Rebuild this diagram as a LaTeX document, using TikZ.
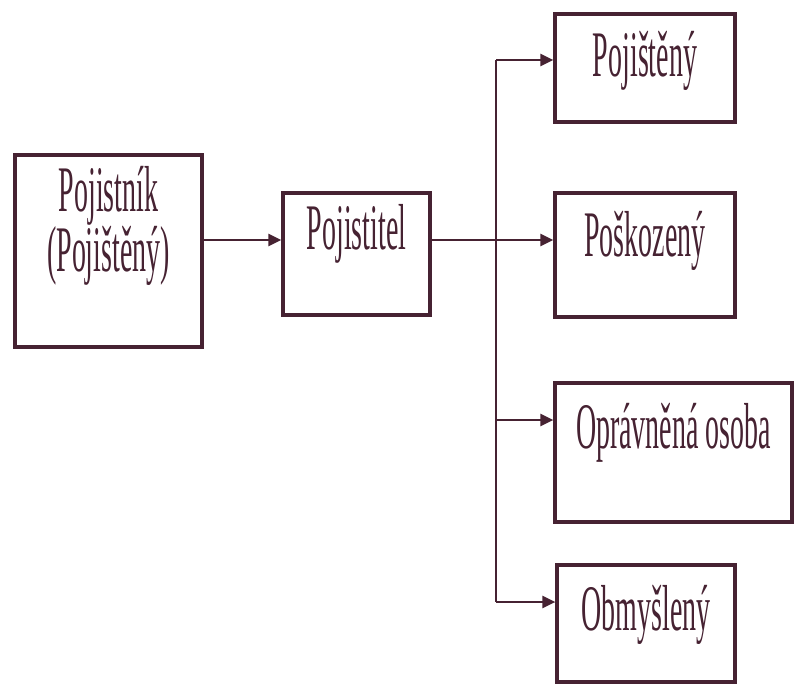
\documentclass[tikz,border=0pt]{standalone}
\usepackage{fontspec}
\setmainfont{Liberation Serif}[FakeStretch=0.43]
\usepackage{tikz}
\usetikzlibrary{arrows, arrows.meta}

\definecolor{ink}{RGB}{70,34,50}

\begin{document}
\begin{tikzpicture}[x=1pt, y=-1pt]
	\tikzstyle{box} = [rectangle, draw=ink, line width=3.2pt, inner sep=0pt, 
	text=ink, align=center, font=\fontsize{65}{56}\selectfont]
	\tikzstyle{line} = [draw=ink, line width=2.4pt]
	\tikzstyle{arrow} = [line, ->, >={Triangle[length=13pt, width=12pt]}]
	\useasboundingbox (0,0) rectangle (794,684);
	\node (pojistnik) [box, minimum width=187pt, minimum height=192pt, text height=100pt, text depth=58pt] at (108.5,251) {Pojistník\\(Pojištěný)};
	\node (pojistitel) [box, minimum width=147pt, minimum height=122pt, text height=44pt, text depth=52pt] at (356.5,254) {Pojistitel};
	\node (pojisteny) [box, minimum width=180pt, minimum height=108pt, text height=44pt, text depth=26pt] at (645,68) {Pojištěný};
	\node (poskozeny) [box, minimum width=180pt, minimum height=124pt, text height=44pt, text depth=40pt] at (645,255) {Poškozený};
	\node (opravnena) [box, minimum width=237pt, minimum height=139pt, text height=44pt, text depth=53pt] at (673.5,452.5) {Oprávněná osoba};
	\node (obmysleny) [box, minimum width=178pt, minimum height=117pt, text height=44pt, text depth=31pt] at (646,623.5) {Obmyšlený};
	\coordinate (jTop) at (496,60);
	\coordinate (jMid) at (496,240);
	\coordinate (jOpr) at (496,420);
	\coordinate (jBot) at (496,602);
	\draw [arrow] (pojistnik.east |- jMid) -- (pojistitel.west |- jMid);
	\draw [line] (pojistitel.east |- jMid) -- (jMid);
	\draw [line] (jTop) -- (jBot);
	\draw [arrow] (jMid) -- (poskozeny.west |- jMid);
	\draw [arrow] (jTop) -- (pojisteny.west |- jTop);
	\draw [arrow] (jOpr) -- (opravnena.west |- jOpr);
	\draw [arrow] (jBot) -- (obmysleny.west |- jBot);
\end{tikzpicture}
\end{document}
